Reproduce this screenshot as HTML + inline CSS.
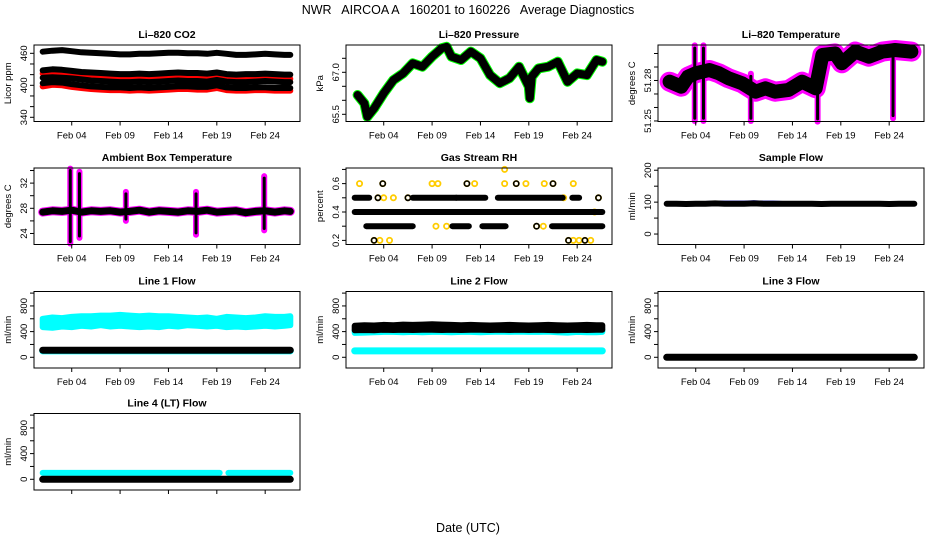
<!DOCTYPE html>
<html><head><meta charset="utf-8"><style>
body{margin:0;background:#fff;}
svg{display:block;font-family:"Liberation Sans",sans-serif;}
</style></head><body>
<svg id="c" width="936" height="540" viewBox="0 0 936 540"></svg>
<script>
// ---- data ----
const days = [1.0,2,3,4,5,6,7,8,9,10,11,12,13,14,15,16,17,18,19,20,21,22,23,24,25,26,26.6];
const co2S1 = [463,465,466,464,462,461,460,459,458,458,459,459,460,461,461,460,460,459,461,459,457,457,458,459,458,457,457];
const co2S2 = [428,430,429,427,425,424,423,422,421,421,422,421,422,423,424,423,423,422,424,421,420,421,421,422,421,420,420];
const co2R1 = [422,425,423,420,418,416,415,414,413,413,414,413,414,415,416,415,414,414,416,413,412,413,414,415,413,412,412];
const co2S3 = [414,415,414,413,411,409,408,407,406,406,407,406,407,408,409,408,408,407,410,407,406,406,407,408,407,406,406];
const co2S4 = [404,406,405,402,400,398,397,396,396,395,396,395,396,397,398,398,397,397,400,396,395,395,396,396,395,395,395];
const co2R2 = [398,401,400,397,395,393,392,391,391,390,391,390,391,392,393,393,392,392,395,391,390,390,391,391,390,390,390];

const presDays = [1.3,2,2.3,3,4,5,6,7,8,9,10,10.5,11,12,13,14,15,16,17,18,19,19.1,19.3,20,21,22,23,24,25,26,26.6];
const presVals = [66.19,65.89,65.41,65.71,66.25,66.72,66.96,67.32,67.2,67.56,67.86,67.91,67.56,67.44,67.74,67.5,66.9,66.61,66.79,67.2,66.49,66.07,66.84,67.14,67.2,67.38,66.66,66.96,66.9,67.44,67.38];

const tempDays = [1.3,2.5,3.2,4.0,5.4,6.4,7.4,8.8,10.2,11.2,12.2,13.6,15.0,16.4,17.1,18.4,19.1,20.5,21.9,23.3,24.6,26.3];
const tempVals = [51.2791,51.2754,51.2828,51.2853,51.2878,51.2853,51.2816,51.2779,51.2717,51.2742,51.2717,51.273,51.2791,51.2742,51.2989,51.3001,51.2927,51.3014,51.2976,51.3014,51.3026,51.3014];
const tempSpikeDays = [3.9,4.8,9.7,16.6,24.4];
const tempSpikeLo = [51.250,51.250,51.250,51.2495,51.252];
const tempSpikeHi = [51.306,51.306,51.285,51.298,51.302];

const ambVals = [27.4,27.6,27.5,27.7,27.4,27.6,27.5,27.6,27.4,27.5,27.7,27.4,27.6,27.5,27.4,27.6,27.5,27.7,27.4,27.5,27.6,27.3,27.5,27.6,27.4,27.6,27.5];
const ambSpikeDays = [3.85,4.8,9.6,16.85,23.9];
const ambSpikeLo = [22.4,23.3,26,23.8,24.5];
const ambSpikeHi = [34.3,33.8,30.6,30.6,33.1];

const rhRunStart = [1.0,7.0,11.5,15.8,23.5,1.0,2.2,11.1,14.2,21.4];
const rhRunEnd   = [2.5,11.5,14.5,22.5,24.2,26.6,7.0,12.8,16.6,26.6];
const rhRunLevel = [0.5,0.5,0.5,0.5,0.5,0.4,0.3,0.3,0.3,0.3];
const rhDotDay   = [3.0,3.6,4.6,23.1,23.6,24.2,24.8,25.4,1.5,3.9,9.0,9.6,12.6,13.4,16.5,17.7,18.7,20.6,21.5,23.6,16.5,3.4,4.0,5.0,6.5,9.4,10.5,19.8,20.5,22.6,26.2,25.8];
const rhDotLevel = [0.2,0.2,0.2,0.2,0.2,0.2,0.2,0.2,0.6,0.6,0.6,0.6,0.6,0.6,0.6,0.6,0.6,0.6,0.6,0.6,0.7,0.5,0.5,0.5,0.5,0.3,0.3,0.3,0.3,0.5,0.5,0.4];

const sampleVals = [95,95,94,95,95,96,95,95,95,96,95,95,95,95,95,95,94,95,95,95,95,95,95,94,95,95,95];
const sampleBlue = [97,97,96,97,99,100,100,100,100,101,100,100,99,99,98,98,97,98,98,99,98,98,99,99,99,99,98];

const l1CyanHi = [600,620,610,630,640,640,650,650,660,650,640,650,640,640,630,620,610,620,600,630,620,610,620,640,630,630,640];
const l1CyanLo = [470,460,480,470,490,480,500,480,490,480,470,480,470,490,480,500,490,480,490,470,480,470,480,490,480,490,500];
const l1Black = 110, l1Cyan = 100;
const l2BlackHi = [490,500,495,505,500,510,505,510,515,510,505,500,505,500,495,500,505,500,495,500,505,500,495,500,505,500,500];
const l2BlackLo = [420,425,420,430,425,430,425,430,430,425,430,425,430,430,425,430,425,430,425,430,425,420,425,430,425,430,430];
const l2CyanLo = [380,385,390,395,395,390,395,390,395,395,390,395,395,390,395,400,395,400,395,395,400,390,385,395,390,390,395];
const l2Cyan = 100;
const l3Black = 0;
const l4Cyan = 100, l4Black = 0;
const l4GapStart = 19.3, l4GapEnd = 20.2;

const xTickDays = [4,9,14,19,24];
const xTickLabels = ["Feb 04","Feb 09","Feb 14","Feb 19","Feb 24"];

// ---- layout ----
const NS = "http://www.w3.org/2000/svg";
const svg = document.getElementById('c');
const colL = [34,346,658], W = 266;
const rowT = [45,168,291.5,413.5], H = 76.5;
const XD = [0.1,27.6];

function el(tag, attrs, parent){
  const e = document.createElementNS(NS, tag);
  for (const k in attrs) e.setAttribute(k, attrs[k]);
  (parent||svg).appendChild(e);
  return e;
}
function mkPanel(col,row,ydom){
  const L=colL[col], T=rowT[row];
  return {L,T,
    x:d=>L+(d-XD[0])/(XD[1]-XD[0])*W,
    y:v=>T+H-(v-ydom[0])/(ydom[1]-ydom[0])*H};
}
function line(p, xs, ys, color, w, name){
  const pts = xs.map((d,i)=>p.x(d).toFixed(1)+","+p.y(ys[i]).toFixed(1)).join(" ");
  const e = el('polyline',{points:pts,fill:'none',stroke:color,'stroke-width':w,'stroke-linejoin':'round','stroke-linecap':'round'});
  
  
  return e;
}
function band(p, xs, lo, hi, color, name){
  let pts = xs.map((d,i)=>p.x(d).toFixed(1)+","+p.y(hi[i]).toFixed(1));
  pts = pts.concat(xs.map((d,i)=>p.x(d).toFixed(1)+","+p.y(lo[i]).toFixed(1)).reverse());
  const e = el('polygon',{points:pts.join(" "),fill:color,stroke:color,'stroke-width':6,'stroke-linejoin':'round'});
  
  
}
function seg(p, d, a, b, color, w, name){
  const e = el('line',{x1:p.x(d),x2:p.x(d),y1:p.y(a),y2:p.y(b),stroke:color,'stroke-width':w,'stroke-linecap':'round'});
  
  
}
function frame(p, title, ylab, yticks, ylabels, showXLabels, ylabelText){
  const g = el('g',{});
  
  
  el('rect',{x:p.L,y:p.T,width:W,height:H,fill:'none',stroke:'#000','stroke-width':1},g);
  const t = el('text',{x:p.L+W/2,y:p.T-7,'text-anchor':'middle','font-size':10.5,'font-weight':'bold'},g);
  t.textContent = title;
  
  
  const yl = el('text',{transform:`translate(${p.L-23},${p.T+H/2}) rotate(-90)`,'text-anchor':'middle','font-size':9.5},g);
  yl.textContent = ylab;
  
  
  yticks.forEach(v=>{
    const yy=p.y(v);
    el('line',{x1:p.L-4,x2:p.L,y1:yy,y2:yy,stroke:'#000'},g);
  });
  ylabels.forEach((v,i)=>{
    const yy=Math.min(p.y(v), p.T+H+2);
    const tx = el('text',{transform:`translate(${p.L-7},${yy}) rotate(-90)`,'text-anchor':'middle','font-size':9.5},g);
    tx.textContent = ylabelText ? ylabelText[i] : String(v);
    
    
  });
  xTickDays.forEach((d,i)=>{
    const xx=p.x(d);
    el('line',{x1:xx,x2:xx,y1:p.T+H,y2:p.T+H+4,stroke:'#000'},g);
    if(showXLabels){
      const tx = el('text',{x:xx,y:p.T+H+17,'text-anchor':'middle','font-size':9.5},g);
      tx.textContent = xTickLabels[i];
      
      
    }
  });
}
const range=(a,b,s)=>{const r=[];for(let v=a;v<=b+1e-9;v+=s)r.push(+v.toFixed(4));return r;};

// main title
let mt = el('text',{x:468,y:14,'text-anchor':'middle','font-size':12.5,style:'white-space:pre'});
mt.textContent = "NWR   AIRCOA A   160201 to 160226   Average Diagnostics";


let xt = el('text',{x:468,y:532,'text-anchor':'middle','font-size':12.5,style:'white-space:pre'});
xt.textContent = "Date (UTC)";



// Panel 1: CO2
let p = mkPanel(0,0,[332.1,475.6]);
[co2R1,co2R2].forEach((s,i)=>line(p,days,s,'#f00',6,'co2-red-series-'+(i+1)));
[co2S1,co2S2,co2S3,co2S4].forEach((s,i)=>line(p,days,s,'#000',6,'co2-black-series-'+(i+1)));
frame(p,"Li\u2013820 CO2","Licor ppm",range(340,460,20),[340,400,460],true);

// Panel 2: Pressure
p = mkPanel(1,0,[65.243,67.975]);
line(p,presDays,presVals,'#0f0',10,'pressure-green-series');
line(p,presDays,presVals,'#000',8,'pressure-series');
frame(p,"Li\u2013820 Pressure","kPa",range(65.5,67.5,0.5),[65.5,67.0],true,["65.5","67.0"]);

// Panel 3: Temperature
p = mkPanel(2,0,[51.2496,51.3063]);
tempSpikeDays.forEach((d,i)=>seg(p,d,tempSpikeLo[i],tempSpikeHi[i],'#f0f',6,'temp-spike-magenta'));
line(p,tempDays,tempVals,'#f0f',20,'temp-magenta-series');
tempSpikeDays.forEach((d,i)=>seg(p,d,tempSpikeLo[i]+0.002,tempSpikeHi[i]-0.002,'#000',3,'temp-spike'));
line(p,tempDays,tempVals,'#000',14,'temp-series');
frame(p,"Li\u2013820 Temperature","degrees C",range(51.25,51.30,0.01),[51.25,51.28],true);

// Panel 4: Ambient
p = mkPanel(0,1,[22.25,34.4]);
ambSpikeDays.forEach((d,i)=>seg(p,d,ambSpikeLo[i],ambSpikeHi[i],'#f0f',6,'ambient-spike-magenta'));
line(p,days,ambVals,'#f0f',9,'ambient-magenta-series');
ambSpikeDays.forEach((d,i)=>seg(p,d,ambSpikeLo[i]+0.3,ambSpikeHi[i]-0.3,'#000',3,'ambient-spike'));
line(p,days,ambVals,'#000',7,'ambient-series');
frame(p,"Ambient Box Temperature","degrees C",range(24,34,2),[24,28,32],true);

// Panel 5: RH
p = mkPanel(1,1,[0.171,0.71]);
rhDotDay.forEach((d,i)=>{
  const c = el('circle',{cx:p.x(d),cy:p.y(rhDotLevel[i]),r:2.6,fill:'none',stroke:'#fc0','stroke-width':1.8});
  
  
});
rhRunStart.forEach((s,i)=>{
  const e = el('line',{x1:p.x(s),x2:p.x(rhRunEnd[i]),y1:p.y(rhRunLevel[i]),y2:p.y(rhRunLevel[i]),stroke:'#000','stroke-width':6,'stroke-linecap':'round'});
  
  
});
rhDotDay.forEach((d,i)=>{
  if(i%3===0){
    const c = el('circle',{cx:p.x(d),cy:p.y(rhDotLevel[i]),r:2.6,fill:'none',stroke:'#000','stroke-width':1.6});
    
    
  }
});
frame(p,"Gas Stream RH","percent",range(0.2,0.7,0.1),[0.2,0.4,0.6],true);

// Panel 6: Sample flow
p = mkPanel(2,1,[-32.8,207]);
line(p,days,sampleBlue,'#00f',3,'sample-flow-blue');
line(p,days,sampleVals,'#000',6,'sample-flow');
frame(p,"Sample Flow","ml/min",range(0,200,50),[0,100,200],true);

// Panel 7: Line 1
const FD = [-167,1025];
p = mkPanel(0,2,FD);
band(p,days,l1CyanLo,l1CyanHi,'#0ff','line1-cyan-band');
line(p,[days[0],days[days.length-1]],[l1Cyan,l1Cyan],'#0ff',7,'line1-cyan-low');
line(p,[days[0],days[days.length-1]],[l1Black,l1Black],'#000',7,'line1-black');
frame(p,"Line 1 Flow","ml/min",range(0,1000,200),[0,400,800],true);

// Panel 8: Line 2
p = mkPanel(1,2,FD);
band(p,days,l2CyanLo,l2BlackLo,'#0ff','line2-cyan-band');
band(p,days,l2BlackLo,l2BlackHi,'#000','line2-black-band');
line(p,[days[0],days[days.length-1]],[l2Cyan,l2Cyan],'#0ff',7,'line2-cyan-low');
frame(p,"Line 2 Flow","ml/min",range(0,1000,200),[0,400,800],true);

// Panel 9: Line 3
p = mkPanel(2,2,FD);
line(p,[days[0],days[days.length-1]],[l3Black,l3Black],'#000',7,'line3-black');
frame(p,"Line 3 Flow","ml/min",range(0,1000,200),[0,400,800],true);

// Panel 10: Line 4
p = mkPanel(0,3,FD);
line(p,[days[0],l4GapStart],[l4Cyan,l4Cyan],'#0ff',6,'line4-cyan-a');
line(p,[l4GapEnd,days[days.length-1]],[l4Cyan,l4Cyan],'#0ff',6,'line4-cyan-b');
line(p,[days[0],days[days.length-1]],[l4Black,l4Black],'#000',7,'line4-black');
frame(p,"Line 4 (LT) Flow","ml/min",range(0,1000,200),[0,400,800],false);
</script>
</body></html>
